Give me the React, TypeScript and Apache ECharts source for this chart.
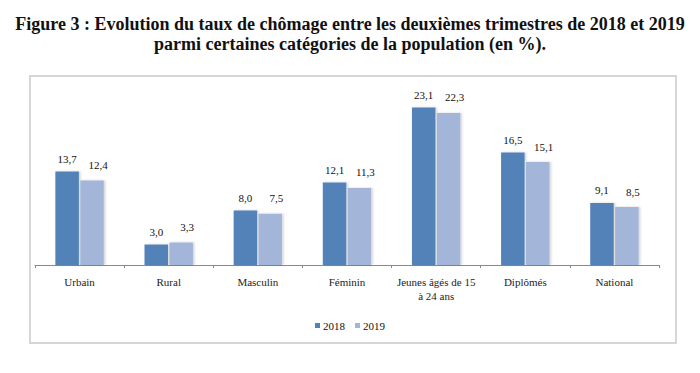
import React, { useEffect, useRef } from "react";
import * as echarts from "echarts";

const categories = ["Urbain", "Rural", "Masculin", "Féminin", "Jeunes âgés de 15 à 24 ans", "Diplômés", "National"];
const values2018 = [13.7, 3.0, 8.0, 12.1, 23.1, 16.5, 9.1];
const values2019 = [12.4, 3.3, 7.5, 11.3, 22.3, 15.1, 8.5];
const seriesNames = ["2018", "2019"];
const titleLines = [
  "Figure 3 : Evolution du taux de chômage entre les deuxièmes trimestres de 2018 et 2019",
  "parmi certaines catégories de la population (en %).",
];

const SERIF = "'Liberation Serif', 'DejaVu Serif', serif";
const fmt = (v: number) => v.toFixed(1).replace(".", ",");

export default function App() {
  const ref = useRef<HTMLDivElement>(null);
  useEffect(() => {
    if (!ref.current) return;
    const chart = echarts.init(ref.current, null, { renderer: "svg" });
    chart.setOption({
      animation: false,
      backgroundColor: "#ffffff",
      title: {
        text: titleLines.join("\n"),
        left: "center",
        top: 9,
        textStyle: {
          fontFamily: SERIF,
          fontWeight: "bold",
          fontSize: 18,
          lineHeight: 20,
          color: "#111111",
        },
      },
      graphic: [
        {
          type: "rect",
          shape: { x: 30, y: 76, width: 646, height: 267 },
          style: { fill: "none", stroke: "#d6d6d6", lineWidth: 2 },
          silent: true,
          z: -1,
        },
      ],
      grid: { left: 35, right: 41, top: 94.5, bottom: 108, containLabel: false },
      legend: {
        data: seriesNames,
        top: 315,
        left: "center",
        icon: "rect",
        itemWidth: 5,
        itemHeight: 5,
        itemGap: 10,
        textStyle: { fontFamily: SERIF, fontSize: 11, color: "#111", padding: [0, 0, 0, -2] },
      },
      xAxis: {
        type: "category",
        data: categories,
        axisLine: { lineStyle: { color: "#8a8a8a", width: 1 } },
        axisTick: { show: true, length: 3, lineStyle: { color: "#8a8a8a" } },
        axisLabel: {
          fontFamily: SERIF,
          fontSize: 11,
          color: "#222",
          margin: 10,
          lineHeight: 14,
          interval: 0,
          formatter: (v: string) => v.replace("15 à", "15\nà"),
        },
      },
      yAxis: {
        type: "value",
        min: 0,
        max: 25,
        show: false,
        splitLine: { show: false },
      },
      series: [
        {
          name: seriesNames[0],
          type: "bar",
          data: values2018,
          barWidth: 23.5,
          barGap: "6%",
          itemStyle: {
            color: "#5282b8",
            shadowColor: "rgba(0,0,0,0.18)",
            shadowBlur: 2,
            shadowOffsetX: 1.5,
          },
          label: {
            show: true,
            position: "top",
            distance: 7,
            fontFamily: SERIF,
            fontSize: 11,
            color: "#111",
            formatter: (p: any) => fmt(p.value),
          },
        },
        {
          name: seriesNames[1],
          type: "bar",
          data: values2019,
          barWidth: 23.5,
          barGap: "6%",
          itemStyle: {
            color: "#a3b6d9",
            shadowColor: "rgba(0,0,0,0.18)",
            shadowBlur: 2,
            shadowOffsetX: 1.5,
          },
          label: {
            show: true,
            position: "top",
            distance: 10,
            offset: [6, 0],
            fontFamily: SERIF,
            fontSize: 11,
            color: "#111",
            formatter: (p: any) => fmt(p.value),
          },
        },
      ],
    });
    return () => chart.dispose();
  }, []);
  return (
    <div
      ref={ref}
      style={{ position: "fixed", left: 0, top: 0, width: 700, height: 373, background: "#fff" }}
    />
  );
}
